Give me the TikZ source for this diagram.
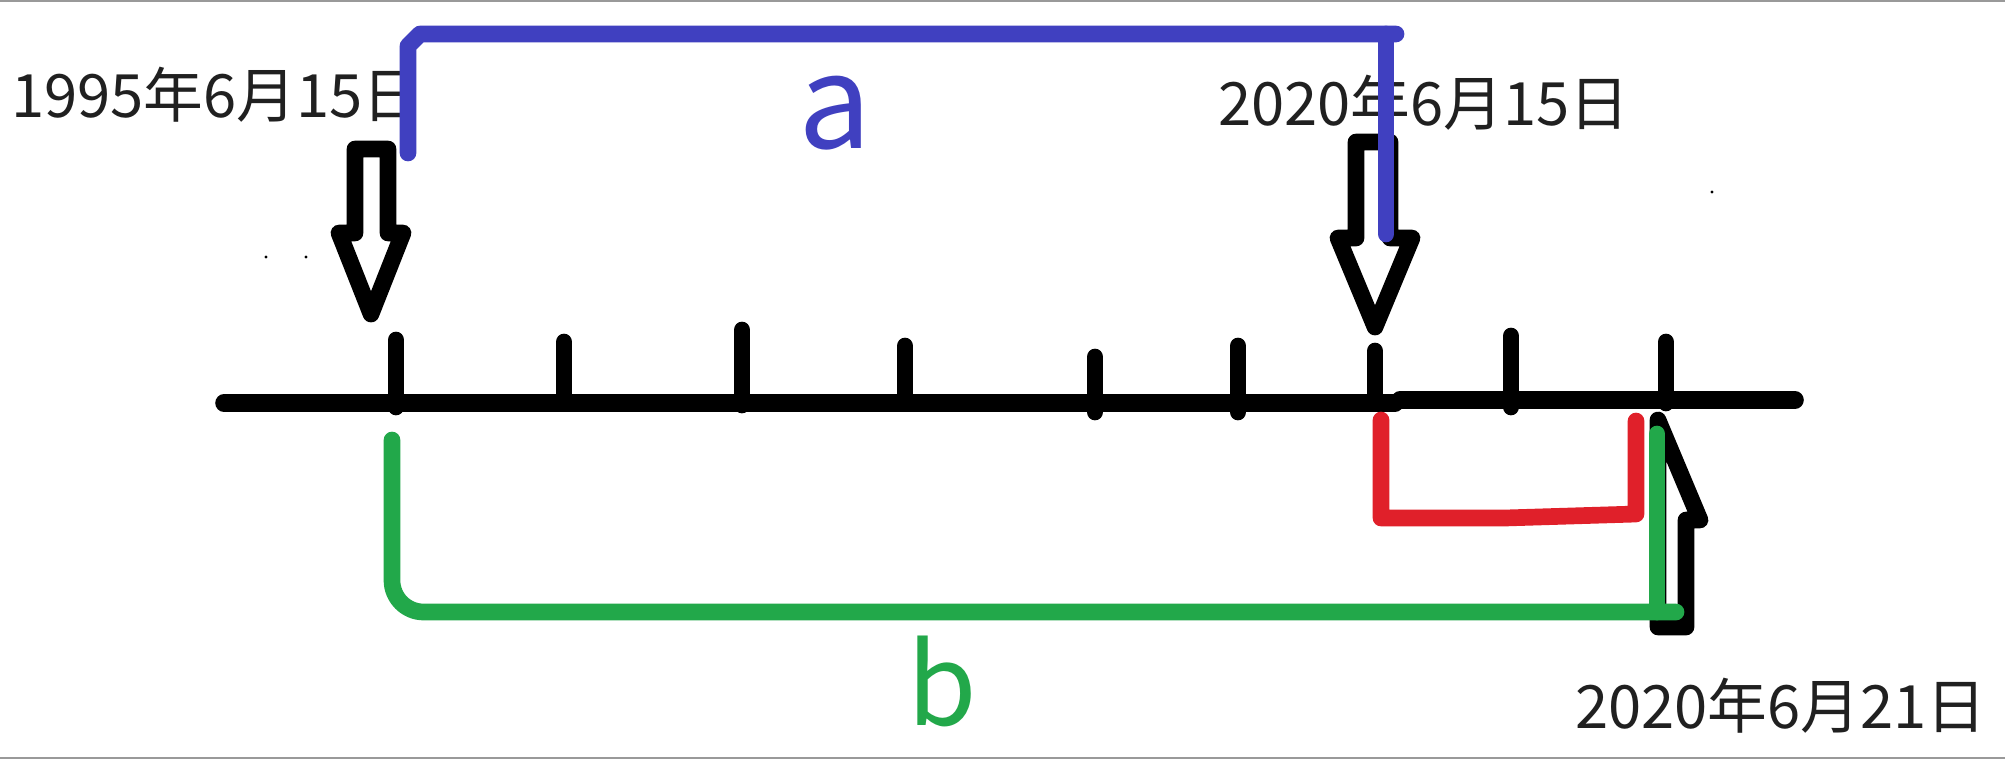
\documentclass[tikz,border=0pt]{standalone}
\usepackage{fontspec}
\newfontfamily\cjk{Noto Sans CJK SC}
\definecolor{myblue}{HTML}{4040C0}
\definecolor{myred}{HTML}{E0202A}
\definecolor{mygreen}{HTML}{22A84A}
\definecolor{txt}{HTML}{202020}
\begin{document}
\begin{tikzpicture}[x=0.02cm,y=-0.02cm,
  pen/.style={line width=9.5pt,line cap=round,line join=round},
  date/.style={font=\cjk\fontsize{34}{34}\selectfont,text=txt,inner sep=0pt,anchor=base west},
  big/.style={font=\cjk\fontsize{74}{74}\selectfont,inner sep=0pt,anchor=base}]
\useasboundingbox (0,0) rectangle (2005,761);
\fill[white] (0,0) rectangle (2005,761);
\draw[black!40,line width=1pt] (0,1) -- (2005,1);
\draw[black!40,line width=1pt] (0,758) -- (2005,758);
% dates
\node[date] (d1) at (11,117) {1995年6月15日};
\node[date] (d2) at (1218,125) {2020年6月15日};
\node[date] (d3) at (1575,728) {2020年6月21日};
% axis
\coordinate (axL) at (224,403);
\coordinate (axM) at (1395,403);
\coordinate (axM2) at (1400,400);
\coordinate (axR) at (1795,400);
\draw[pen,line width=10pt] (axL) -- (axM);
\draw[pen,line width=10pt] (axM2) -- (axR);
\foreach \x/\t/\b in {396/340/407,564/342/403,742/330/405,905/346/403,1095/357/412,1238/346/412,1375/351/403,1511/336/407,1666/342/403}
  \draw[pen] (\x,\t) -- (\x,\b);
% stray dots
\fill (266,257) circle (1.6);
\fill (306,257) circle (1.6);
\fill (1712,192) circle (1.6);
% hollow down arrows
\draw[pen] (355,149) -- (388,149) -- (388,233) -- (403,233) -- (371,314) -- (339,233) -- (355,233) -- cycle;
\draw[pen] (1356,142) -- (1390,142) -- (1390,238) -- (1412,238) -- (1375,327) -- (1338,238) -- (1356,238) -- cycle;
% half up arrow
\draw[pen] (1658,627) -- (1658,420) -- (1700,520) -- (1686,520) -- (1686,627) -- cycle;
% blue bracket
\coordinate (bl) at (408,153);
\coordinate (br) at (1386,234);
\draw[pen,myblue] (bl) -- (408,46) -- (420,34) -- (1396,34);
\draw[pen,myblue] (1386,34) -- (br);
\node[big,text=myblue] (la) at (835,148) {a};
% red bracket
\coordinate (rl) at (1381,420);
\coordinate (rr) at (1636,421);
\draw[pen,myred] (rl) -- (1381,518) -- (1505,518) -- (1636,514) -- (rr);
% green bracket
\coordinate (gl) at (392,440);
\coordinate (gr) at (1657,434);
\draw[pen,mygreen,rounded corners=18] (gl) -- (392,612) -- (1676,612);
\draw[pen,mygreen] (1657,612) -- (gr);
\node[big,text=mygreen,font=\cjk\fontsize{64}{64}\selectfont] (lb) at (942,725) {b};
\end{tikzpicture}
\end{document}
